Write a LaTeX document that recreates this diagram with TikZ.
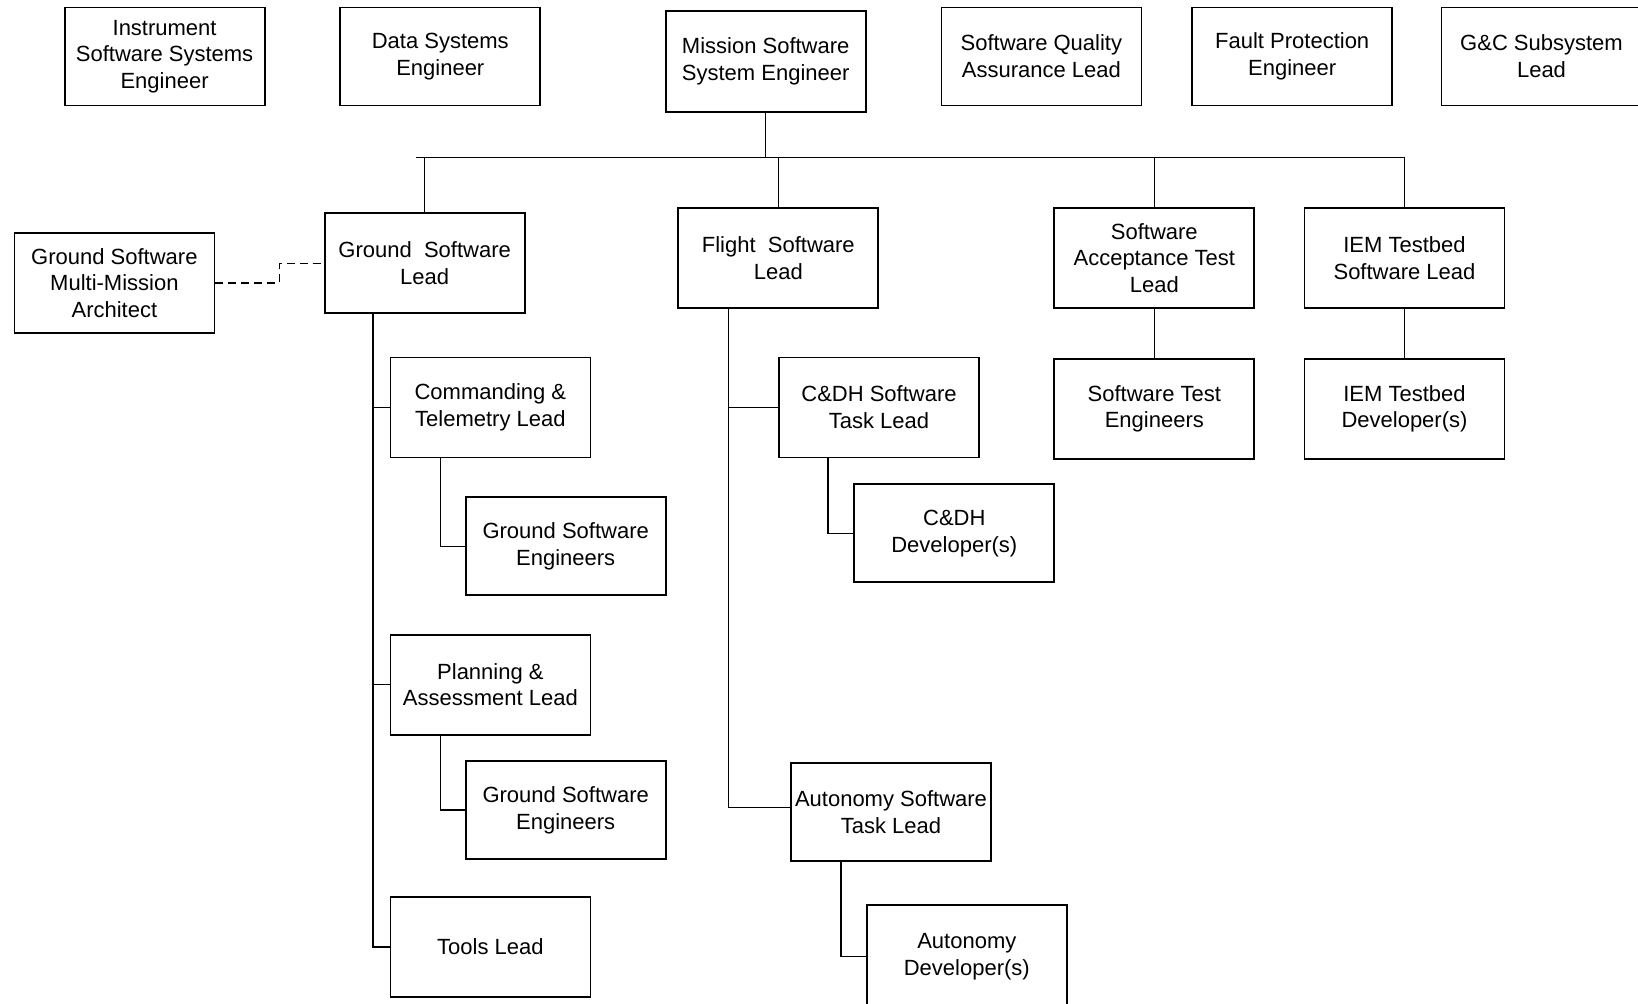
\documentclass[tikz,border=0pt]{standalone}
\usepackage{fontspec}
\setmainfont{Liberation Sans}
\usetikzlibrary{positioning,calc}
\tikzset{
  role/.style={draw,line width=0.9pt,align=center,minimum width=100pt,
               minimum height=49pt,inner sep=2pt,font=\fontsize{11}{13.3}\selectfont},
  ln/.style={line width=0.75pt},
  dln/.style={line width=0.8pt,dash pattern=on 4pt off 2.5pt},
}
\begin{document}
\begin{tikzpicture}[x=0.5pt,y=-0.5pt]
    \clip (0,0) rectangle (1638,1003);
    % top row
    \node[role] (isse) at (164.6,56.4) {Instrument\\Software Systems\\Engineer};
    \node[role] (dse) at (440.3,56.4) {Data Systems\\Engineer};
    \node[role,minimum height=50.5pt] (msse) at (765.7,61.1) {Mission Software\\System Engineer};
    \node[role] (sqa) at (1041.4,56.4) {Software Quality\\Assurance Lead};
    \node[role] (fpe) at (1292.2,56.4) {Fault Protection\\Engineer};
    \node[role] (gnc) at (1541.5,56.4) {G\&C Subsystem\\Lead};
    % leads
    \node[role,minimum height=50pt] (arch) at (114.4,283.1) {Ground Software\\Multi-Mission\\Architect};
    \node[role,minimum height=50pt] (gsl) at (424.7,263.3) {Ground~~Software\\Lead};
    \node[role,minimum height=50pt] (fsl) at (778.3,258) {Flight~~Software\\Lead};
    \node[role,minimum height=50pt] (satl) at (1154.3,258) {Software\\Acceptance Test\\Lead};
    \node[role,minimum height=50pt] (iemsl) at (1404.5,258) {IEM Testbed\\Software Lead};
    \node[role,minimum height=50pt,below=24.5pt of satl] (ste) {Software Test\\Engineers};
    \node[role,minimum height=50pt,below=24.5pt of iemsl] (iemdev) {IEM Testbed\\Developer(s)};
    % ground branch
    \node[role,minimum height=50pt] (ct) at (490.4,407.4) {Commanding \&\\Telemetry Lead};
    \node[role] (gse1) at (565.7,546.3) {Ground Software\\Engineers};
    \node[role,minimum height=50pt] (pa) at (490.4,684.7) {Planning \&\\Assessment Lead};
    \node[role] (gse2) at (565.7,810) {Ground Software\\Engineers};
    \node[role,minimum height=50pt] (tools) at (490.4,947) {Tools Lead};
    % flight branch
    \node[role,minimum height=50pt] (cdh) at (879,407.4) {C\&DH Software\\Task Lead};
    \node[role] (cdhdev) at (954.3,533.3) {C\&DH\\Developer(s)};
    \node[role] (auto) at (891,812) {Autonomy Software\\Task Lead};
    \node[role,minimum height=52pt] (autodev) at (966.8,956.6) {Autonomy\\Developer(s)};
    % bus
    \coordinate (busL) at (415.7,157.7);
    \draw[ln] (msse.south) -- (msse.south |- busL);
    \draw[ln] (busL) -- (busL -| iemsl.north);
    \foreach \n in {gsl,fsl,satl,iemsl}
      \draw[ln] (busL -| \n.north) -- (\n.north);
    \draw[dln] (arch.east) -- ++(64,0) |- (gsl.west);
    % ground trunk
    \coordinate (gtrunk) at ([xshift=24.5pt]gsl.south west);
    \draw[ln] (gtrunk) |- (tools.west);
    \foreach \c in {ct,pa}
      \draw[ln] (gtrunk |- \c.west) -- (\c.west);
    \draw[ln] ([xshift=25.5pt]ct.south west) |- (gse1.west);
    \draw[ln] ([xshift=25.5pt]pa.south west) |- (gse2.west);
    % flight trunk
    \coordinate (ftrunk) at ([xshift=25.5pt]fsl.south west);
    \draw[ln] (ftrunk) |- ([yshift=2.3pt]auto.west);
    \draw[ln] (ftrunk |- cdh.west) -- (cdh.west);
    \draw[ln] ([xshift=25pt]cdh.south west) |- (cdhdev.west);
    \draw[ln] ([xshift=25.5pt]auto.south west) |- (autodev.west);
    \draw[ln] (satl) -- (ste);
    \draw[ln] (iemsl) -- (iemdev);
  \end{tikzpicture}
\end{document}
